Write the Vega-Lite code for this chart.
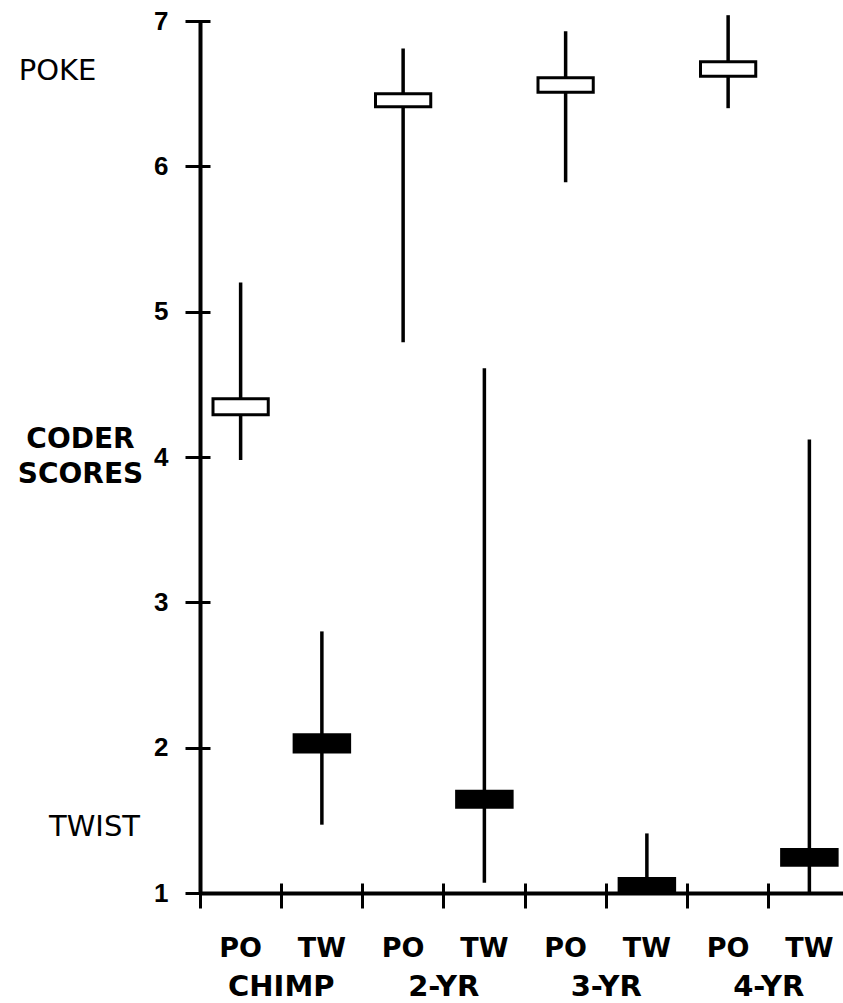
{
  "$schema": "https://vega.github.io/schema/vega-lite/v6.json",
  "width": 643,
  "height": 872,
  "autosize": "none",
  "padding": {"left": 200, "top": 21, "right": 0, "bottom": 110},
  "background": "white",
  "config": {"view": {"stroke": null}},
  "data": {
    "values": [
      {"group": "CHIMP", "cond": "PO", "key": "CHIMP|PO", "lo": 3.98, "hi": 5.2, "boxLo": 4.29, "boxHi": 4.4},
      {"group": "CHIMP", "cond": "TW", "key": "CHIMP|TW", "lo": 1.47, "hi": 2.8, "boxLo": 1.96, "boxHi": 2.1},
      {"group": "2-YR", "cond": "PO", "key": "2-YR|PO", "lo": 4.79, "hi": 6.81, "boxLo": 6.41, "boxHi": 6.5},
      {"group": "2-YR", "cond": "TW", "key": "2-YR|TW", "lo": 1.07, "hi": 4.61, "boxLo": 1.58, "boxHi": 1.71},
      {"group": "3-YR", "cond": "PO", "key": "3-YR|PO", "lo": 5.89, "hi": 6.93, "boxLo": 6.51, "boxHi": 6.61},
      {"group": "3-YR", "cond": "TW", "key": "3-YR|TW", "lo": 1.0, "hi": 1.41, "boxLo": 1.0, "boxHi": 1.11},
      {"group": "4-YR", "cond": "PO", "key": "4-YR|PO", "lo": 6.4, "hi": 7.04, "boxLo": 6.62, "boxHi": 6.72},
      {"group": "4-YR", "cond": "TW", "key": "4-YR|TW", "lo": 1.0, "hi": 4.12, "boxLo": 1.18, "boxHi": 1.31}
    ]
  },
  "layer": [
    {
      "mark": {"type": "rule", "color": "black", "strokeWidth": 3.5},
      "encoding": {
        "x": {
          "field": "key", "type": "nominal",
          "scale": {"domain": ["CHIMP|PO", "CHIMP|TW", "2-YR|PO", "2-YR|TW", "3-YR|PO", "3-YR|TW", "4-YR|PO", "4-YR|TW"], "range": [0, 650], "paddingInner": 0, "paddingOuter": 0},
          "axis": {
            "title": null, "orient": "bottom", "ticks": false, "tickSize": 0, "domain": true, "domainColor": "black", "domainWidth": 4,
            "labelExpr": "split(datum.value, '|')[1]", "labelAngle": 0, "labelFont": "DejaVu Sans", "labelFontWeight": "bold",
            "labelFontSize": 27, "labelColor": "black", "labelPadding": 42, "labelBaseline": "top", "grid": false
          }
        },
        "y": {
          "field": "lo", "type": "quantitative",
          "scale": {"domain": [1, 7], "nice": false, "zero": false},
          "axis": {
            "title": ["CODER", "SCORES"], "titleAngle": 0, "titleAlign": "center", "titleBaseline": "middle", "titleX": -120, "titleY": 418,
            "titleFont": "DejaVu Sans", "titleFontWeight": "bold", "titleFontSize": 28, "titleLineHeight": 35, "titleColor": "black",
            "orient": "left", "values": [1, 2, 3, 4, 5, 6, 7], "ticks": false, "tickSize": 0, "domain": true, "domainColor": "black", "domainWidth": 4,
            "labelFont": "Liberation Sans", "labelFontWeight": "bold", "labelFontSize": 26, "labelColor": "black", "labelPadding": 32, "grid": false
          }
        },
        "y2": {"field": "hi"}
      }
    },
    {
      "transform": [{"filter": "datum.cond == 'PO'"}],
      "mark": {"type": "bar", "fill": "white", "stroke": "black", "strokeWidth": 3, "width": {"band": 0.68}},
      "encoding": {
        "x": {
          "field": "key", "type": "nominal",
          "axis": {
            "title": null, "orient": "bottom", "bandPosition": 0, "offset": -10, "ticks": true, "tickSize": 25, "tickWidth": 3, "tickColor": "black", "domain": false,
            "labelExpr": "indexof(datum.value, 'TW') >= 0 ? split(datum.value, '|')[0] : ''", "labelAngle": 0,
            "labelFont": "DejaVu Sans", "labelFontWeight": "bold", "labelFontSize": 29, "labelColor": "black", "labelPadding": 64,
            "labelOffset": -40.6, "labelBaseline": "top", "labelAlign": "center", "grid": false
          }
        },
        "y": {
          "field": "boxLo", "type": "quantitative",
          "axis": {
            "title": null, "orient": "left", "values": [1, 2, 3, 4, 5, 6, 7], "offset": -10, "ticks": true, "tickSize": 25, "tickWidth": 3,
            "tickColor": "black", "domain": false, "labels": false, "grid": false
          }
        },
        "y2": {"field": "boxHi"}
      }
    },
    {
      "transform": [{"filter": "datum.cond == 'TW'"}],
      "mark": {"type": "bar", "fill": "black", "width": {"band": 0.72}},
      "encoding": {
        "x": {"field": "key", "type": "nominal", "axis": null},
        "y": {
          "field": "boxLo", "type": "quantitative",
          "axis": {
            "title": null, "orient": "left", "values": [1.46, 6.66], "ticks": false, "tickSize": 0, "domain": false, "grid": false,
            "labelExpr": "datum.value > 6 ? 'POKE' : 'TWIST'",
            "labelFont": "DejaVu Sans", "labelFontSize": 29, "labelColor": "black", "labelAlign": "center", "labelBaseline": "middle",
            "labelPadding": {"condition": {"test": "datum.value > 6", "value": 143}, "value": 106}
          }
        },
        "y2": {"field": "boxHi"}
      }
    }
  ],
  "resolve": {"axis": {"x": "independent", "y": "independent"}}
}
